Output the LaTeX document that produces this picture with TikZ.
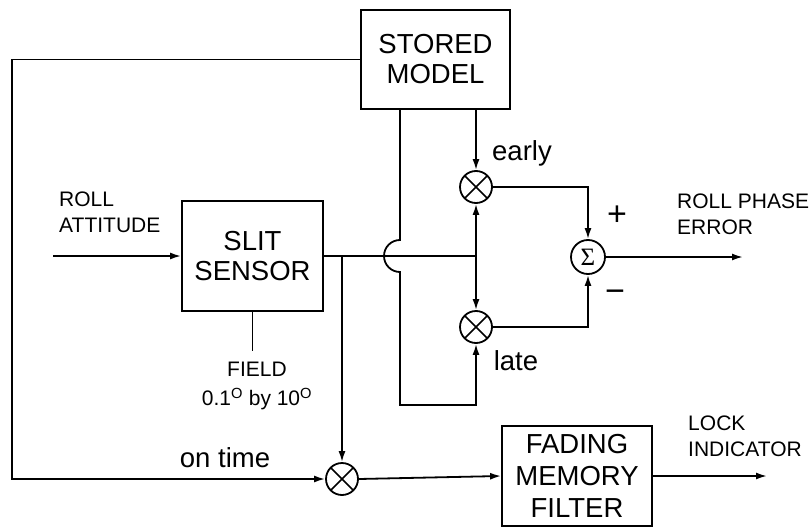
\documentclass[tikz,border=0pt]{standalone}
\usepackage{fontspec}
\setmainfont{Liberation Sans}
\newfontfamily\sigmafont{Liberation Serif}
\usetikzlibrary{arrows.meta,calc,positioning}

\begin{document}
\begin{tikzpicture}[x=1pt,y=-1pt,line width=1.8pt,
    blk/.style={draw,rectangle,align=center,inner sep=0pt,font=\fontsize{27.5}{30}\selectfont},
    mult/.style={draw,circle,minimum size=32pt,inner sep=0pt,
      path picture={\draw[line width=1.5pt] (path picture bounding box.north west) -- (path picture bounding box.south east)
        (path picture bounding box.north east) -- (path picture bounding box.south west);}},
    summ/.style={draw,circle,minimum size=34pt,inner sep=0pt,font=\sigmafont\fontsize{25}{25}\selectfont},
    lbl/.style={font=\fontsize{21}{26}\selectfont,align=left},
    big/.style={font=\fontsize{27.5}{30}\selectfont},
    sgn/.style={font=\fontsize{34}{34}\selectfont},
    arr/.style={-{Latex[length=11pt,width=7pt]}}]
        \useasboundingbox (0,0) rectangle (811,527);
        % Draw the blocks
        \node[blk,minimum width=149pt,minimum height=99pt] (stored) at (435.5,59.5) {STORED\\MODEL};
        \node[blk,minimum width=141pt,minimum height=110pt] (slit) at (252.5,256) {SLIT\\SENSOR};
        \node[blk,minimum width=150pt,minimum height=100pt] (fading) at (577,476) {FADING\\[2pt]MEMORY\\[2pt]FILTER};
        % multipliers and summer
        \node[mult] (early) at (476,187) {};
        \node[mult] (late) at (476,327) {};
        \node[mult] (ontime) at (342,479) {};
        \node[summ] (sum) at (588,257) {Σ};
        % free ends and corners
        \coordinate (in) at (53,256);
        \coordinate (split) at (342,256);
        \coordinate (fork) at (476,256);
        \coordinate (hop) at (400,240);
        \coordinate (loop) at (400,405);
        \coordinate (fb) at (12,479);
        \coordinate (errout) at (743,257);
        \coordinate (lockout) at (767,476);
        % Draw the connections
        \draw[arr] (in) -- (slit.west);
        \draw (slit.east) -- (fork);
        \draw[arr] (split) -- (ontime.north);
        \draw[arr] (fork) -- (early.south);
        \draw[arr] (fork) -- (late.north);
        \draw[arr] (stored.south -| early) -- (early.north);
        \draw[arr] (stored.south -| hop) -- (hop) arc[start angle=90,end angle=270,radius=16pt] -- (loop) -| (late.south);
        \draw[arr] (early.east) -| (sum.north);
        \draw[arr] (late.east) -| (sum.south);
        \draw[arr] (sum.east) -- (errout);
        \draw[arr] (stored.west) -| (fb) -- (ontime.west);
        \draw[arr] (ontime.east) -- (fading.west);
        \draw[arr] (fading.east) -- (lockout);
        \draw[line width=1.2pt] (slit.south) -- ++(0,39);
        % label the signals
        \node[lbl,anchor=west] (rollin) at (55,212) {ROLL\\ATTITUDE};
        \node[lbl,anchor=west] (rollerr) at (673,214.5) {ROLL PHASE\\ERROR};
        \node[lbl,anchor=west] (lock) at (684,436) {LOCK\\INDICATOR};
        \node[lbl,align=center] (field) at (257,386) {FIELD\\[3pt]0.1\textsuperscript{O} by 10\textsuperscript{O}};
        \node[big] (earlylbl) at (522,153) {early};
        \node[big] (latelbl) at (516,361) {late};
        \node[big] (ontimelbl) at (225,458) {on time};
        \node[sgn] (plus) at (617,216) {+};
        \node[sgn] (minus) at (615,296) {−};
      \end{tikzpicture}
\end{document}
